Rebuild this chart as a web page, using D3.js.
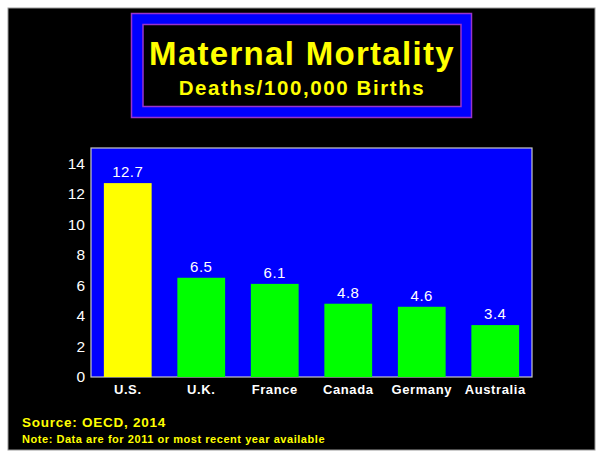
<!DOCTYPE html>
<html><head><meta charset="utf-8">
<script src="https://cdn.jsdelivr.net/npm/d3@7"></script>
<style>html,body{margin:0;padding:0;background:#fff;}svg{display:block;}</style>
</head><body>
<svg id="c" width="604" height="459"></svg>
<script>
const categories = ["U.S.", "U.K.", "France", "Canada", "Germany", "Australia"];
const values = [12.7, 6.5, 6.1, 4.8, 4.6, 3.4];
const valueLabels = ["12.7", "6.5", "6.1", "4.8", "4.6", "3.4"];
const barColors = ["#ffff00", "#00ff00", "#00ff00", "#00ff00", "#00ff00", "#00ff00"];
const yTicks = [0, 2, 4, 6, 8, 10, 12, 14];
const titleText = "Maternal Mortality";
const subtitleText = "Deaths/100,000 Births";
const sourceText = "Source: OECD, 2014";
const noteText = "Note: Data are for 2011 or most recent year available";

(function () {
const svg = d3.select("#c");
const font = "Arial, 'Liberation Sans', Helvetica, sans-serif";

// background
svg.append("rect").attr("x", 8).attr("y", 8).attr("width", 587).attr("height", 442)
  .attr("fill", "#000").attr("stroke", "#9a9a9a").attr("stroke-width", 1);

// title box
svg.append("rect").attr("x", 131.5).attr("y", 13.5).attr("width", 340).attr("height", 104)
  .attr("fill", "#0000ff").attr("stroke", "#9933cc").attr("stroke-width", 1.5);
svg.append("rect").attr("x", 143).attr("y", 24.5).attr("width", 318).attr("height", 82)
  .attr("fill", "#000").attr("stroke", "#9933cc").attr("stroke-width", 1.5);
svg.append("text").attr("x", 302).attr("y", 65).attr("text-anchor", "middle")
  .attr("font-family", font).attr("font-weight", "bold").attr("font-size", 33)
  .attr("letter-spacing", 1.3).attr("fill", "#ffff00").text(titleText);
svg.append("text").attr("x", 302).attr("y", 95).attr("text-anchor", "middle")
  .attr("font-family", font).attr("font-weight", "bold").attr("font-size", 20.5)
  .attr("letter-spacing", 1.6).attr("fill", "#ffff00").text(subtitleText);

// plot
const pL = 91, pR = 532, pT = 148, pB = 377;
const x = d3.scaleBand().domain(categories).range([pL, pR]).paddingInner(0.35).paddingOuter(0.175);
const y = d3.scaleLinear().domain([0, 15]).range([pB, pT]);

svg.append("rect").attr("x", pL).attr("y", pT).attr("width", pR - pL).attr("height", pB - pT)
  .attr("fill", "#0000ff").attr("stroke", "#c8c8c8").attr("stroke-width", 1.2);

svg.selectAll("rect.bar").data(categories).enter().append("rect").attr("class", "bar")
  .attr("x", d => x(d)).attr("width", x.bandwidth())
  .attr("y", (d, i) => y(values[i])).attr("height", (d, i) => pB - y(values[i]))
  .attr("fill", (d, i) => barColors[i]);

svg.selectAll("text.val").data(categories).enter().append("text").attr("class", "val")
  .attr("x", d => x(d) + x.bandwidth() / 2).attr("y", (d, i) => y(values[i]) - 6)
  .attr("text-anchor", "middle").attr("font-family", font).attr("font-size", 15)
  .attr("fill", "#fff").attr("letter-spacing", 0.5).text((d, i) => valueLabels[i]);

// y axis
const yAxis = d3.axisLeft(y).tickValues(yTicks).tickSize(0).tickPadding(6).tickFormat(d3.format("d"));
const ga = svg.append("g").attr("transform", `translate(${pL},0)`).call(yAxis);
ga.select(".domain").remove();
ga.selectAll("text").attr("font-family", font).attr("font-size", 15.5).attr("fill", "#fff")
  .attr("text-anchor", "end");

// x axis
const xAxis = d3.axisBottom(x).tickSize(0).tickPadding(8);
const gx = svg.append("g").attr("transform", `translate(0,${pB})`).call(xAxis);
gx.select(".domain").remove();
gx.selectAll("text").attr("font-family", font).attr("font-size", 13).attr("font-weight", "bold")
  .attr("fill", "#fff").attr("letter-spacing", 0.6);

// footer
svg.append("text").attr("x", 22).attr("y", 427).attr("font-family", font).attr("font-weight", "bold")
  .attr("font-size", 13.5).attr("fill", "#ffff00").attr("letter-spacing", 0.75).text(sourceText);
svg.append("text").attr("x", 22).attr("y", 443).attr("font-family", font).attr("font-weight", "bold")
  .attr("font-size", 11).attr("fill", "#ffff00").attr("letter-spacing", 0.55).text(noteText);
})();
</script>
</body></html>
